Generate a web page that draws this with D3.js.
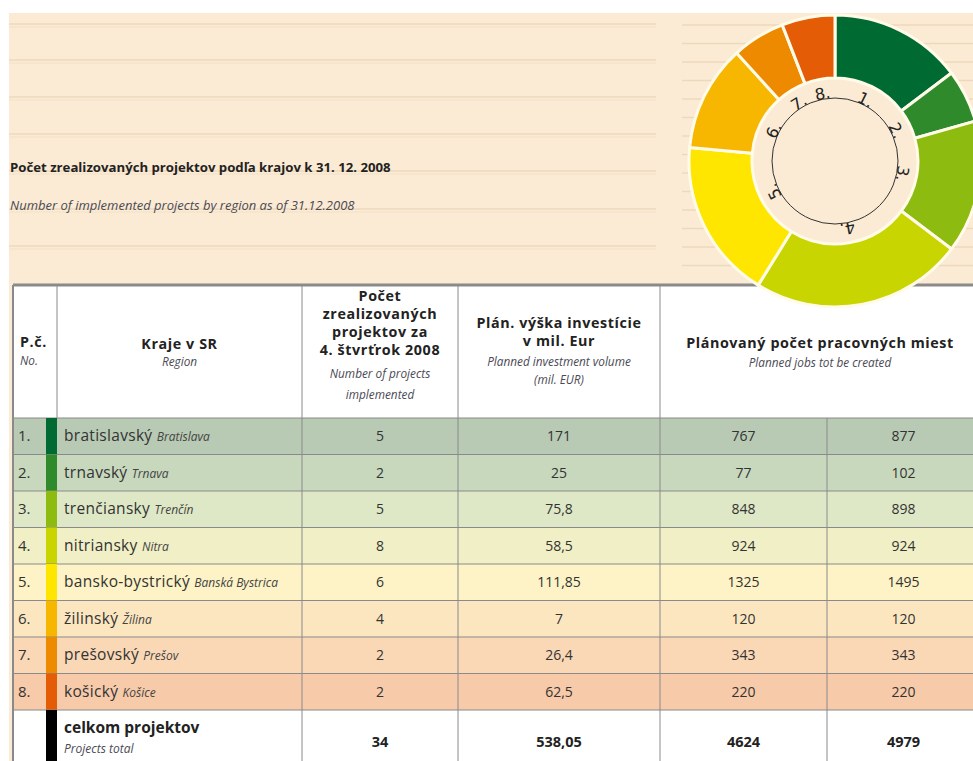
<!DOCTYPE html>
<html>
<head>
<meta charset="utf-8">
<script src="https://cdn.jsdelivr.net/npm/d3@7"></script>
<style>
  body { margin: 0; background: #fff; }
  svg { display: block; font-family: "Open Sans", Lato, sans-serif; }
</style>
</head>
<body>
<svg id="graf" width="973" height="761"></svg>
<script>
// data
const cisla = ["1.", "2.", "3.", "4.", "5.", "6.", "7.", "8."];
const kraje = ["bratislavský", "trnavský", "trenčiansky", "nitriansky", "bansko-bystrický", "žilinský", "prešovský", "košický"];
const regiony = ["Bratislava", "Trnava", "Trenčín", "Nitra", "Banská Bystrica", "Žilina", "Prešov", "Košice"];
const projekty = [5, 2, 5, 8, 6, 4, 2, 2];
const investicie = [171, 25, 75.8, 58.5, 111.85, 7, 26.4, 62.5];
const miesta1 = [767, 77, 848, 924, 1325, 120, 343, 220];
const miesta2 = [877, 102, 898, 924, 1495, 120, 343, 220];

const farby = ["#006a33", "#2f8a2c", "#8dbb0f", "#c9d500", "#ffe600", "#f7b600", "#ee8a00", "#e45c06"];
const riadky = ["#b8cab3", "#c7d8bd", "#dee8c6", "#f0efc6", "#fdf3c6", "#fce6c0", "#fad8b6", "#f7caa9"];

const fmt = v => String(v).replace(".", ",");
const fmt2 = v => v.toFixed(2).replace(".", ",");

const svg = d3.select("#graf");
const krem = "#fbebd4";
const siva = "#8a8a8a";

// pozadie
svg.append("rect").attr("x", 9).attr("y", 13).attr("width", 964).attr("height", 748).attr("fill", krem);

const liniky = [24, 60, 97, 134, 171, 209, 246];
svg.selectAll(".lin").data(liniky).join("line")
  .attr("x1", 9).attr("x2", 656).attr("y1", d => d).attr("y2", d => d)
  .attr("stroke", "#ecd9bd").attr("stroke-width", 1.3);
svg.selectAll(".lin2").data(liniky).join("line")
  .attr("x1", 9).attr("x2", 656).attr("y1", d => d + 3).attr("y2", d => d + 3)
  .attr("stroke", "#f5e5cd").attr("stroke-width", 1.5);
svg.selectAll(".linp").data(d3.range(25, 270, 18.5)).join("line")
  .attr("x1", 682).attr("x2", 973).attr("y1", d => d).attr("y2", d => d)
  .attr("stroke", "#ecd9bd").attr("stroke-width", 1.3);

svg.append("text").attr("x", 10).attr("y", 172)
  .attr("font-size", 13.2).attr("font-weight", "bold").attr("fill", "#222")
  .text("Počet zrealizovaných projektov podľa krajov k 31. 12. 2008");
svg.append("text").attr("x", 10).attr("y", 210)
  .attr("font-size", 13).attr("font-style", "italic").attr("fill", "#4a4a55")
  .text("Number of implemented projects by region as of 31.12.2008");

// tabulka
const stlpce = [13, 46, 57, 302, 458, 660, 827, 980];
const hlavaTop = 285, hlavaBot = 418;
const y = d3.scaleBand().domain(d3.range(8)).range([hlavaBot, hlavaBot + 8 * 36.5]);
const sumaTop = y.range()[1];

svg.append("rect").attr("x", 13).attr("y", hlavaTop).attr("width", 967).attr("height", 761 - hlavaTop).attr("fill", "#fff");

const rows = svg.selectAll(".riadok").data(d3.range(8)).join("g")
  .attr("transform", i => `translate(0,${y(i)})`);
rows.append("rect").attr("x", 13).attr("width", 967).attr("height", y.bandwidth()).attr("fill", i => riadky[i]);
rows.append("line").attr("x1", 13).attr("x2", 980).attr("y1", 0).attr("y2", 0).attr("stroke", siva);
rows.append("rect").attr("x", stlpce[1]).attr("width", stlpce[2] - stlpce[1]).attr("height", y.bandwidth()).attr("fill", i => farby[i]);

const stred = y.bandwidth() / 2 + 5;
rows.append("text").attr("x", 18).attr("y", stred).attr("font-size", 15).attr("fill", "#333").text(i => cisla[i]);
const nazov = rows.append("text").attr("x", 64).attr("y", stred).attr("fill", "#333");
nazov.append("tspan").attr("font-size", 15.5).attr("letter-spacing", 0.3).text(i => kraje[i] + " ");
nazov.append("tspan").attr("font-size", 12).attr("font-style", "italic").attr("fill", "#444").text(i => regiony[i]);

const hodnoty = [
  { x: (stlpce[3] + stlpce[4]) / 2, v: projekty, f: String },
  { x: (stlpce[4] + stlpce[5]) / 2, v: investicie, f: fmt },
  { x: (stlpce[5] + stlpce[6]) / 2, v: miesta1, f: String },
  { x: (stlpce[6] + stlpce[7]) / 2, v: miesta2, f: String }
];
hodnoty.forEach(s => {
  rows.append("text").attr("x", s.x).attr("y", stred).attr("text-anchor", "middle")
    .attr("font-size", 14).attr("fill", "#333").text(i => s.f(s.v[i]));
});

// sucet
svg.append("line").attr("x1", 13).attr("x2", 980).attr("y1", sumaTop).attr("y2", sumaTop).attr("stroke", siva);
svg.append("rect").attr("x", stlpce[1]).attr("y", sumaTop).attr("width", stlpce[2] - stlpce[1]).attr("height", 761 - sumaTop).attr("fill", "#000");
svg.append("text").attr("x", 64).attr("y", sumaTop + 23).attr("font-size", 15.5).attr("font-weight", "bold").attr("fill", "#222").text("celkom projektov");
svg.append("text").attr("x", 64).attr("y", sumaTop + 43).attr("font-size", 12).attr("font-style", "italic").attr("fill", "#4a4a55").text("Projects total");
const sumy = [String(d3.sum(projekty)), fmt2(d3.sum(investicie)), String(d3.sum(miesta1)), String(d3.sum(miesta2))];
hodnoty.forEach((s, k) => {
  svg.append("text").attr("x", s.x).attr("y", sumaTop + 37).attr("text-anchor", "middle")
    .attr("font-size", 14.5).attr("font-weight", "bold").attr("fill", "#222").text(sumy[k]);
});

// zvisle ciary
[stlpce[2], stlpce[3], stlpce[4], stlpce[5]].forEach(x => {
  svg.append("line").attr("x1", x).attr("x2", x).attr("y1", hlavaTop).attr("y2", hlavaBot).attr("stroke", siva);
});
[stlpce[3], stlpce[4], stlpce[5], stlpce[6]].forEach(x => {
  svg.append("line").attr("x1", x).attr("x2", x).attr("y1", hlavaBot).attr("y2", 761).attr("stroke", siva);
});
svg.append("line").attr("x1", 13).attr("x2", 980).attr("y1", hlavaTop).attr("y2", hlavaTop).attr("stroke", siva).attr("stroke-width", 3);
svg.append("line").attr("x1", 13).attr("x2", 13).attr("y1", hlavaTop).attr("y2", 761).attr("stroke", siva).attr("stroke-width", 2);

// hlavicka
function hlava(x, riadkyText, anchor) {
  riadkyText.forEach(r => {
    svg.append("text").attr("x", x).attr("y", r.y).attr("text-anchor", anchor || "middle")
      .attr("font-size", r.b ? 14.3 : 11.8).attr("font-weight", r.b ? "bold" : "normal")
      .attr("letter-spacing", r.b ? 0.6 : 0)
      .attr("font-style", r.b ? "normal" : "italic").attr("fill", r.b ? "#222" : "#4a4a55").text(r.t);
  });
}
hlava(20, [{ t: "P.č.", y: 347, b: true }, { t: "No.", y: 365 }], "start");
hlava((stlpce[2] + stlpce[3]) / 2, [{ t: "Kraje v SR", y: 349, b: true }, { t: "Region", y: 366 }]);
hlava((stlpce[3] + stlpce[4]) / 2, [
  { t: "Počet", y: 301, b: true }, { t: "zrealizovaných", y: 319, b: true },
  { t: "projektov za", y: 337, b: true }, { t: "4. štvrťrok 2008", y: 355, b: true },
  { t: "Number of projects", y: 378 }, { t: "implemented", y: 399 }]);
hlava((stlpce[4] + stlpce[5]) / 2, [
  { t: "Plán. výška investície", y: 328, b: true }, { t: "v mil. Eur", y: 346, b: true },
  { t: "Planned investment volume", y: 366 }, { t: "(mil. EUR)", y: 384 }]);
hlava((stlpce[5] + stlpce[7]) / 2, [
  { t: "Plánovaný počet pracovných miest", y: 348, b: true }, { t: "Planned jobs tot be created", y: 367 }]);

// donut
const cx = 835, cy = 161;
const pie = d3.pie().sort(null).value(d => d);
const arc = d3.arc().innerRadius(83).outerRadius(146);
const g = svg.append("g").attr("transform", `translate(${cx},${cy})`);
g.append("circle").attr("r", 83).attr("fill", krem);
g.selectAll("path").data(pie(projekty)).join("path")
  .attr("d", arc).attr("fill", (d, i) => farby[i])
  .attr("stroke", "#fffbe8").attr("stroke-width", 3).attr("stroke-linejoin", "round");
g.append("circle").attr("r", 63).attr("fill", "none").attr("stroke", "#333").attr("stroke-width", 1);
g.selectAll(".lbl").data(pie(projekty)).join("text")
  .attr("transform", d => `rotate(${(d.startAngle + d.endAngle) / 2 * 180 / Math.PI}) translate(0,-63)`)
  .attr("text-anchor", "middle").attr("font-family", "DejaVu Sans").attr("font-size", 16).attr("fill", "#222")
  .text((d, i) => cisla[i]);
</script>
</body>
</html>
